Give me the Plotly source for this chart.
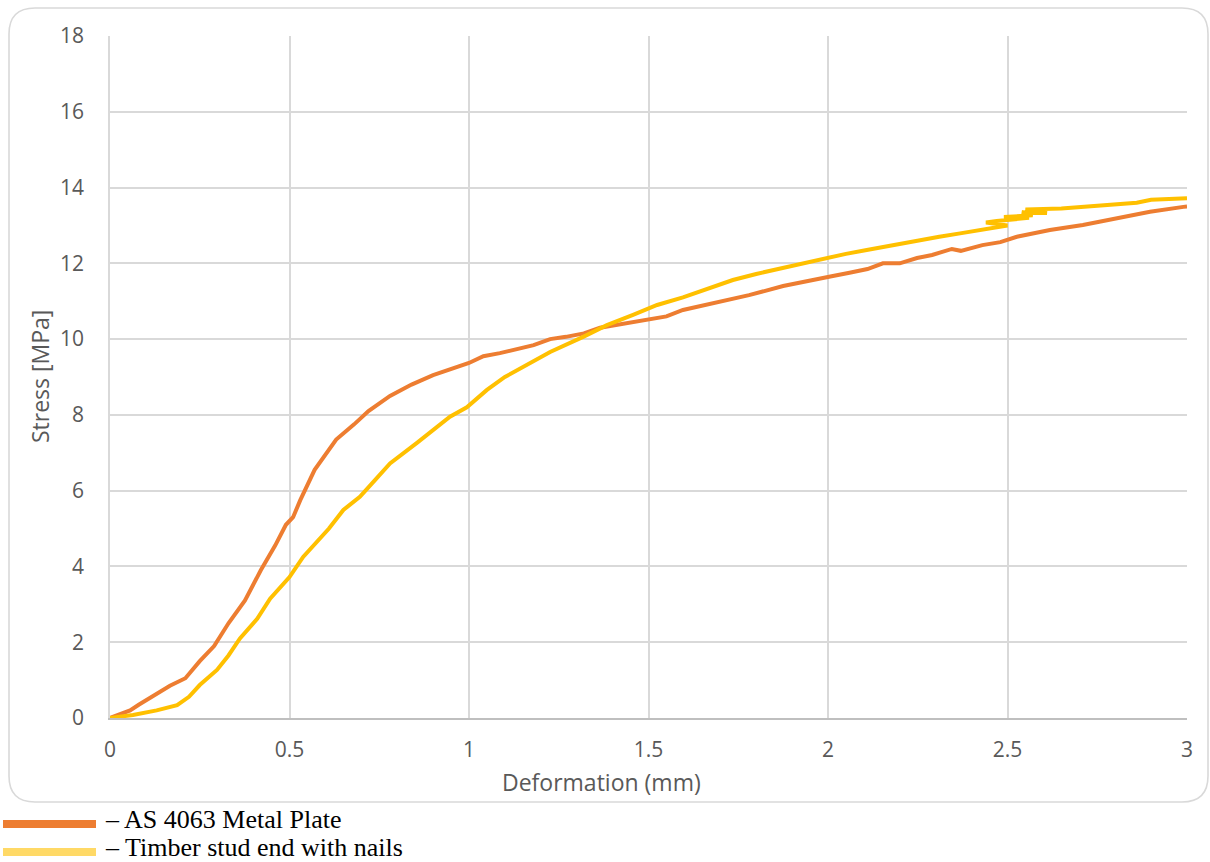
import plotly.graph_objects as go

# ---------------- data ----------------
plate_x = [0, 0.03, 0.056, 0.08, 0.11, 0.14, 0.167, 0.21, 0.25, 0.29, 0.33, 0.376, 0.42, 0.46,
           0.49, 0.51, 0.53, 0.57, 0.63, 0.68, 0.72, 0.78, 0.84, 0.9, 0.95, 1.0, 1.04, 1.086,
           1.18, 1.226, 1.27, 1.32, 1.365, 1.457, 1.55, 1.596, 1.643, 1.69, 1.78, 1.875, 1.97,
           2.01, 2.06, 2.11, 2.153, 2.2, 2.248, 2.29, 2.345, 2.37, 2.43, 2.48, 2.526, 2.618,
           2.71, 2.805, 2.897, 2.99, 3.0]
plate_y = [0, 0.1, 0.2, 0.35, 0.53, 0.7, 0.85, 1.05, 1.5, 1.9, 2.5, 3.1, 3.9, 4.55,
           5.1, 5.3, 5.75, 6.55, 7.35, 7.75, 8.1, 8.5, 8.8, 9.05, 9.2, 9.37, 9.55, 9.63,
           9.84, 10.0, 10.06, 10.15, 10.3, 10.45, 10.6, 10.77, 10.87, 10.98, 11.16, 11.4, 11.6,
           11.66, 11.75, 11.85, 12.0, 12.0, 12.14, 12.22, 12.38, 12.33, 12.48, 12.56, 12.7, 12.88,
           13.01, 13.2, 13.36, 13.49, 13.5]

timber_x = [0, 0.064, 0.13, 0.187, 0.22, 0.25, 0.298, 0.33, 0.362, 0.41, 0.446, 0.5, 0.538,
            0.576, 0.61, 0.65, 0.696, 0.74, 0.78, 0.855, 0.9, 0.947, 0.994, 1.05, 1.1, 1.16,
            1.226, 1.318, 1.384, 1.457, 1.524, 1.596, 1.66, 1.735, 1.8, 1.875, 1.94, 1.997,
            2.05, 2.108, 2.18, 2.248, 2.31, 2.368, 2.43, 2.48, 2.50, 2.44, 2.47, 2.56, 2.49,
            2.57, 2.54, 2.61, 2.55, 2.65, 2.72, 2.8, 2.86, 2.9, 2.95, 3.0]
timber_y = [0, 0.08, 0.2, 0.34, 0.56, 0.87, 1.27, 1.65, 2.1, 2.62, 3.15, 3.72, 4.25,
            4.65, 5.0, 5.49, 5.84, 6.3, 6.72, 7.26, 7.6, 7.95, 8.2, 8.66, 9.0, 9.32,
            9.66, 10.06, 10.37, 10.64, 10.9, 11.1, 11.32, 11.56, 11.72, 11.88, 12.02, 12.14,
            12.25, 12.35, 12.48, 12.6, 12.7, 12.79, 12.88, 12.97, 13.0, 13.08, 13.12, 13.2, 13.22,
            13.27, 13.35, 13.33, 13.42, 13.45, 13.5, 13.57, 13.6, 13.68, 13.71, 13.72]

x_ticks = [0, 0.5, 1, 1.5, 2, 2.5, 3]
y_ticks = [0, 2, 4, 6, 8, 10, 12, 14, 16, 18]
legend_labels = ["– AS 4063 Metal Plate", "– Timber stud end with nails"]

# ---------------- layout geometry ----------------
W, H = 1210, 862
L, R, T, B = 110, 1187, 36, 718   # plot area in pixels


def px(xp):
    return (xp - L) / (R - L)


def py(yp):
    return (B - yp) / (B - T)


def rounded_rect(x0, y0, x1, y1, r):
    pts = []
    pts.append(f"M {px(x0 + r)} {py(y0)}")
    pts.append(f"L {px(x1 - r)} {py(y0)}")
    pts.append(f"Q {px(x1)} {py(y0)} {px(x1)} {py(y0 + r)}")
    pts.append(f"L {px(x1)} {py(y1 - r)}")
    pts.append(f"Q {px(x1)} {py(y1)} {px(x1 - r)} {py(y1)}")
    pts.append(f"L {px(x0 + r)} {py(y1)}")
    pts.append(f"Q {px(x0)} {py(y1)} {px(x0)} {py(y1 - r)}")
    pts.append(f"L {px(x0)} {py(y0 + r)}")
    pts.append(f"Q {px(x0)} {py(y0)} {px(x0 + r)} {py(y0)}")
    pts.append("Z")
    return " ".join(pts)


ORANGE = "#ED7D31"
YELLOW = "#FFC000"
YELLOW_LEG = "#FFD966"
GRID = "#D9D9D9"
TXT = "#595959"
FONT = "Open Sans"
TICK_SIZE = 21
TITLE_SIZE = 23
LEG_SIZE = 26

fig = go.Figure()
fig.add_trace(go.Scatter(x=plate_x, y=plate_y, mode="lines", name=legend_labels[0],
                         line=dict(color=ORANGE, width=4), showlegend=False))
fig.add_trace(go.Scatter(x=timber_x, y=timber_y, mode="lines", name=legend_labels[1],
                         line=dict(color=YELLOW, width=4), showlegend=False))

shapes = [
    dict(type="path", xref="paper", yref="paper", path=rounded_rect(9, 8, 1208, 802, 26),
         line=dict(color=GRID, width=1.6), fillcolor="rgba(0,0,0,0)", layer="below"),
    dict(type="line", xref="paper", yref="paper", x0=px(3), x1=px(96), y0=py(824), y1=py(824),
         line=dict(color=ORANGE, width=8)),
    dict(type="line", xref="paper", yref="paper", x0=px(3), x1=px(96), y0=py(852), y1=py(852),
         line=dict(color=YELLOW_LEG, width=8)),
]

annotations = [
    dict(text="Deformation (mm)", xref="paper", yref="paper", x=px(601), y=py(782),
         showarrow=False, font=dict(family=FONT, size=TITLE_SIZE, color=TXT),
         xanchor="center", yanchor="middle"),
    dict(text="Stress [MPa]", xref="paper", yref="paper", x=px(40), y=py(377), textangle=-90,
         showarrow=False, font=dict(family=FONT, size=TITLE_SIZE, color=TXT),
         xanchor="center", yanchor="middle"),
    dict(text=legend_labels[0], xref="paper", yref="paper", x=px(103), y=py(819),
         showarrow=False, font=dict(family="Liberation Serif", size=LEG_SIZE, color="black"),
         xanchor="left", yanchor="middle"),
    dict(text=legend_labels[1], xref="paper", yref="paper", x=px(103), y=py(847),
         showarrow=False, font=dict(family="Liberation Serif", size=LEG_SIZE, color="black"),
         xanchor="left", yanchor="middle"),
]

fig.update_layout(
    width=W, height=H,
    margin=dict(l=L, r=W - R, t=T, b=H - B, pad=0),
    paper_bgcolor="white", plot_bgcolor="white",
    shapes=shapes, annotations=annotations,
    font=dict(family=FONT, size=TICK_SIZE, color=TXT),
    xaxis=dict(range=[0, 3], tickvals=x_ticks, ticktext=[f"{v:g}" for v in x_ticks],
               showgrid=True, gridcolor=GRID, gridwidth=1.5, zeroline=False,
               showline=True, linecolor="#BFBFBF", linewidth=1.5, mirror=False,
               ticks="", ticklabelstandoff=12, tickfont=dict(size=TICK_SIZE, color=TXT, family=FONT)),
    yaxis=dict(range=[0, 18], tickvals=y_ticks, ticktext=[str(v) for v in y_ticks],
               showgrid=True, gridcolor=GRID, gridwidth=1.5, zeroline=False,
               showline=True, linecolor=GRID, linewidth=1.5, mirror=False,
               ticks="", ticklabelstandoff=20, tickfont=dict(size=TICK_SIZE, color=TXT, family=FONT)),
)

fig.write_html("out.html")
